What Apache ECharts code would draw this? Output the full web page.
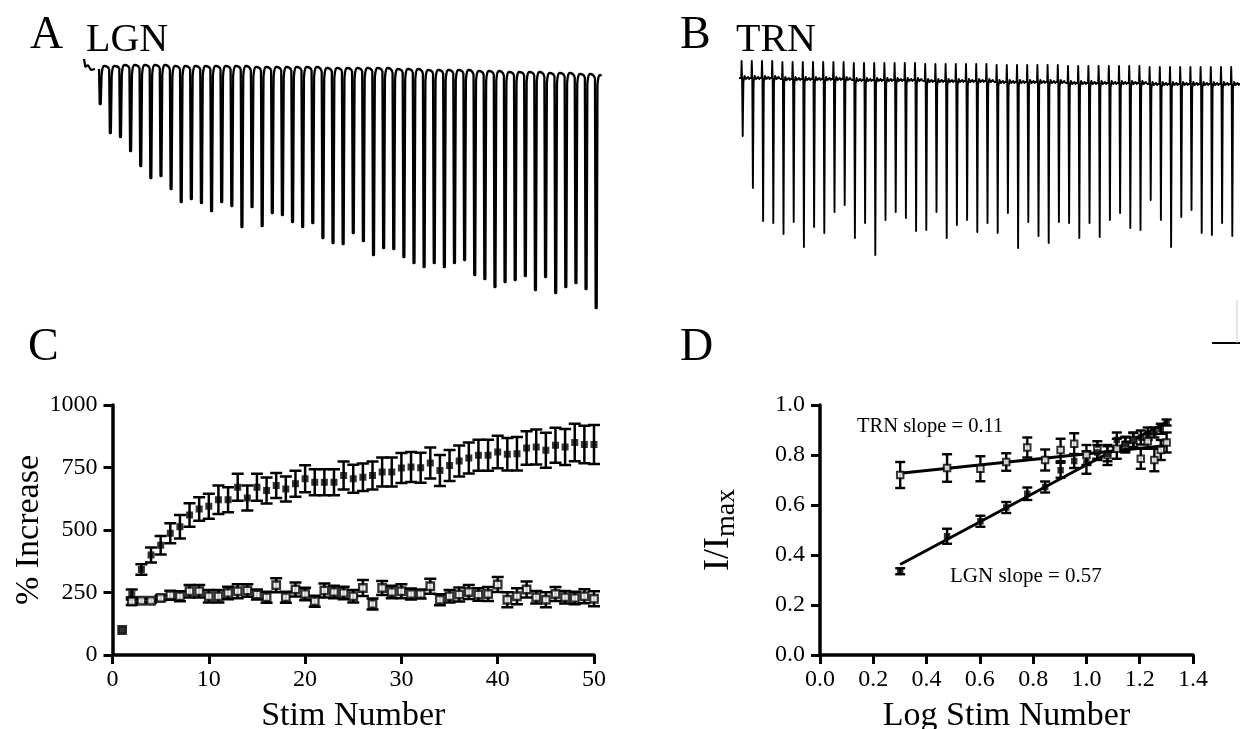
<!DOCTYPE html>
<html><head><meta charset="utf-8">
<script src="https://cdn.jsdelivr.net/npm/echarts@6/dist/echarts.min.js"></script>
<style>html,body{margin:0;padding:0;background:#fff}#c{width:1240px;height:729px}</style>
</head><body><div id="c"></div>
<script>
// ---------- data ----------
const stimNumbers = [1,2,3,4,5,6,7,8,9,10,11,12,13,14,15,16,17,18,19,20,21,22,23,24,25,26,27,28,29,30,31,32,33,34,35,36,37,38,39,40,41,42,43,44,45,46,47,48,49,50];

// Panel A: LGN trace, EPSC peak and inter-stim top level (trace units)
const lgnTracePeak = [-44,-73,-77,-91,-106,-118,-116,-129,-142,-139,-143,-151,-142,-146,-167,-147,-166,-153,-155,-162,-167,-163,-178,-183,-184,-173,-181,-195,-188,-189,-197,-203,-207,-203,-207,-203,-200,-215,-219,-227,-222,-220,-216,-230,-217,-233,-227,-223,-229,-248];
const lgnTraceTop = [-6,-6,-5,-5,-5,-5,-5,-6,-6,-6,-6,-6,-6,-6,-6,-7,-7,-7,-7,-7,-7,-7,-8,-8,-8,-8,-8,-8,-8,-9,-9,-9,-10,-10,-10,-10,-10,-11,-11,-11,-12,-12,-12,-12,-13,-13,-13,-14,-14,-15];
const lgnPreTrace = [[-0.5,2],[-0.35,-7],[-0.1,-5],[0.2,-10],[0.6,-9]];

// Panel B: TRN trace
const trnTracePeak = [-76,-128,-161,-163,-174,-162,-187,-167,-173,-152,-145,-178,-163,-195,-160,-152,-158,-171,-170,-152,-178,-165,-160,-172,-163,-173,-153,-188,-162,-176,-183,-162,-163,-178,-163,-177,-160,-153,-168,-170,-140,-160,-187,-157,-150,-173,-175,-163,-176,-170];
const trnTraceBase = [-18,-18,-18,-18,-19,-19,-19,-19,-19,-19,-19,-20,-20,-20,-20,-20,-20,-20,-21,-21,-21,-21,-21,-21,-21,-22,-22,-22,-22,-22,-22,-22,-23,-23,-23,-23,-23,-23,-23,-23,-24,-24,-24,-24,-24,-24,-24,-24,-24,-24];

// Panel C: % increase vs stim number
const lgnPct = [100,242,342,400,439,487,513,560,584,595,621,621,671,628,671,658,678,664,685,705,691,691,691,718,705,711,718,732,732,748,752,749,768,738,758,776,788,799,799,812,803,805,828,832,819,839,832,850,842,842];
const lgnPctErr = [0,20,21,30,37,40,47,47,47,50,57,50,54,50,54,52,50,50,52,54,52,52,52,56,56,55,56,58,58,60,60,60,62,62,62,62,62,62,62,65,65,67,67,70,70,70,72,75,75,78];
const trnPct = [100,215,217,217,228,239,235,255,255,235,235,248,255,258,242,231,279,231,262,244,215,258,252,248,235,268,204,268,252,255,244,244,275,221,235,242,252,242,244,282,221,235,262,231,221,244,231,228,235,225];
const trnPctErr = [0,15,8,8,10,18,20,25,25,25,25,25,28,25,20,22,28,22,28,25,22,28,25,25,25,32,22,28,25,28,22,18,30,22,25,28,28,25,28,30,30,32,32,25,30,28,25,25,28,30];
const pctTicks = [0,250,500,750,1000];

// Panel D: normalised current vs log stim number
const logStim = [0.301,0.477,0.602,0.699,0.778,0.845,0.903,0.954,1.000,1.041,1.079,1.114,1.146,1.176,1.204,1.230,1.255,1.279,1.301];
const lgnNorm = [0.335,0.475,0.535,0.590,0.645,0.672,0.739,0.776,0.770,0.810,0.805,0.860,0.845,0.860,0.870,0.885,0.890,0.905,0.930];
const lgnNormErr = [0.012,0.030,0.022,0.022,0.025,0.022,0.030,0.028,0.045,0.030,0.030,0.030,0.028,0.028,0.028,0.025,0.020,0.020,0.012];
const trnNorm = [0.720,0.748,0.745,0.772,0.830,0.780,0.820,0.845,0.800,0.820,0.800,0.825,0.840,0.860,0.785,0.855,0.780,0.820,0.850];
const trnNormErr = [0.052,0.055,0.050,0.035,0.040,0.042,0.045,0.042,0.040,0.035,0.040,0.040,0.030,0.030,0.040,0.030,0.045,0.040,0.040];
const lgnFit = [[0.301,0.362],[1.301,0.932]];
const trnFit = [[0.301,0.727],[1.301,0.838]];

// ---------- rendering ----------
const FONT = '"Liberation Serif", "Times New Roman", serif';
const chart = echarts.init(document.getElementById('c'), null, {renderer:'canvas'});

function lgnGlyph(params, api){
  const s = api.value(0), peak = api.value(1), top = api.value(2), last = api.value(4);
  const nextTop = api.value(3);
  const p0 = api.coord([s, top]);
  const pk = api.coord([s, peak]);
  const p1 = api.coord([s+1, nextTop]);
  const x = p0[0], y = p0[1];
  let d = `M${x},${y+3} L${x+0.7},${pk[1]} L${x+1.7},${pk[1]} L${x+2.5},${y+10} Q${x+3.2},${y-1} ${x+5.5},${y} `;
  if (last) d += `L${x+6.5},${y+1}`;
  else d += `Q${x+8.5},${y} ${p1[0]},${p1[1]+3}`;
  return {type:'path', shape:{pathData:d}, style:{fill:'none', stroke:'#000', lineWidth:2.3, lineJoin:'round'}};
}
function trnGlyph(params, api){
  const s = api.value(0), peak = api.value(1), base = api.value(2), nextBase = api.value(3);
  const p0 = api.coord([s, base]);
  const pk = api.coord([s, peak]);
  const p1 = api.coord([s+1, nextBase]);
  const x = p0[0], y = p0[1];
  const d = `M${x-3},${y} L${x-0.8},${y} L${x-0.4},${y-17} L${x+0.1},${y+3} L${x+0.7},${pk[1]} L${x+1.4},${y+4} L${x+2.5},${y-2} L${x+4},${y+1} L${x+6},${y-1} L${x+7.2},${y+1} L${p1[0]-3},${p1[1]}`;
  return {type:'path', shape:{pathData:d}, style:{fill:'none', stroke:'#000', lineWidth:1.9, lineJoin:'round'}};
}
function errGlyph(cap, lw){
  return function(params, api){
    const x = api.value(0), y = api.value(1), e = api.value(2);
    if (!e) return null;
    const hi = api.coord([x, y+e]), lo = api.coord([x, y-e]);
    const st = {stroke:'#000', lineWidth:lw};
    return {type:'group', children:[
      {type:'line', shape:{x1:hi[0],y1:hi[1],x2:lo[0],y2:lo[1]}, style:st},
      {type:'line', shape:{x1:hi[0]-cap,y1:hi[1],x2:hi[0]+cap,y2:hi[1]}, style:st},
      {type:'line', shape:{x1:lo[0]-cap,y1:lo[1],x2:lo[0]+cap,y2:lo[1]}, style:st}
    ]};
  };
}

const axisCommon = {
  axisLine:{show:true, onZero:false, lineStyle:{color:'#000', width:3.5}},
  axisTick:{show:true, inside:false, length:9, lineStyle:{color:'#000', width:3}},
  splitLine:{show:false},
  axisLabel:{color:'#000', fontFamily:FONT, fontSize:24, margin:15},
  nameTextStyle:{color:'#000', fontFamily:FONT, fontSize:34}
};
const hiddenAxis = {show:false, type:'value'};
const gridBase = {containLabel:false, outerBoundsMode:'none', show:false};

const option = {
  animation:false,
  backgroundColor:'#fff',
  grid:[
    Object.assign({left:78.8, top:60, width:526.3, height:260}, gridBase),
    Object.assign({left:721.6, top:60, width:530.4, height:260}, gridBase),
    Object.assign({left:112.5, top:405, width:481.5, height:250}, gridBase),
    Object.assign({left:820, top:405, width:373, height:250}, gridBase)
  ],
  xAxis:[
    Object.assign({gridIndex:0, min:-1, max:51}, hiddenAxis),
    Object.assign({gridIndex:1, min:-1, max:51}, hiddenAxis),
    Object.assign({gridIndex:2, type:'value', min:0, max:50, interval:10, name:'Stim Number', nameLocation:'middle', nameGap:44}, axisCommon,
      {axisLabel:Object.assign({}, axisCommon.axisLabel, {margin:13})}),
    Object.assign({gridIndex:3, type:'value', min:0, max:1.4, interval:0.2, name:'Log Stim Number', nameLocation:'middle', nameGap:44}, axisCommon,
      {axisLabel:Object.assign({}, axisCommon.axisLabel, {margin:13, formatter:v=>v.toFixed(1)})})
  ],
  yAxis:[
    Object.assign({gridIndex:0, min:-260, max:0}, hiddenAxis),
    Object.assign({gridIndex:1, min:-260, max:0}, hiddenAxis),
    Object.assign({gridIndex:2, type:'value', min:pctTicks[0], max:pctTicks[pctTicks.length-1], interval:250, name:'% Increase', nameLocation:'middle', nameGap:65, nameRotate:90}, axisCommon,
      {axisLabel:Object.assign({}, axisCommon.axisLabel, {formatter:v=>String(v)})}),
    Object.assign({gridIndex:3, type:'value', min:0, max:1, interval:0.2, name:'I/I{sub|max}', nameLocation:'middle', nameGap:79, nameRotate:90}, axisCommon,
      {axisLabel:Object.assign({}, axisCommon.axisLabel, {formatter:v=>v.toFixed(1)}),
       nameTextStyle:{color:'#000', fontFamily:FONT, fontSize:36, rich:{sub:{fontFamily:FONT, fontSize:28, color:'#000', padding:[16,0,0,0]}}}})
  ],
  series:[
    {type:'line', xAxisIndex:0, yAxisIndex:0, data:lgnPreTrace, symbol:'none', lineStyle:{color:'#000', width:2.2}, silent:true},
    {type:'custom', xAxisIndex:0, yAxisIndex:0, clip:false, silent:true, renderItem:lgnGlyph,
      data:stimNumbers.map((s,i)=>[s, lgnTracePeak[i], lgnTraceTop[i], i<stimNumbers.length-1 ? lgnTraceTop[i+1] : lgnTraceTop[i], i===stimNumbers.length-1 ? 1 : 0])},
    {type:'custom', xAxisIndex:1, yAxisIndex:1, clip:false, silent:true, renderItem:trnGlyph,
      data:stimNumbers.map((s,i)=>[s, trnTracePeak[i], trnTraceBase[i], i<stimNumbers.length-1 ? trnTraceBase[i+1] : trnTraceBase[i]])},

    {type:'custom', xAxisIndex:2, yAxisIndex:2, clip:false, silent:true, renderItem:errGlyph(6, 2.5), z:2,
      data:stimNumbers.map((s,i)=>[s, trnPct[i], trnPctErr[i]])},
    {type:'custom', xAxisIndex:2, yAxisIndex:2, clip:false, silent:true, renderItem:errGlyph(6, 2.5), z:2,
      data:stimNumbers.map((s,i)=>[s, lgnPct[i], lgnPctErr[i]])},
    {type:'scatter', xAxisIndex:2, yAxisIndex:2, symbol:'rect', symbolSize:7.5, z:3,
      itemStyle:{color:'#fff', borderColor:'#000', borderWidth:2.3}, data:stimNumbers.map((s,i)=>[s, trnPct[i]])},
    {type:'scatter', xAxisIndex:2, yAxisIndex:2, symbol:'rect', symbolSize:7, z:4,
      itemStyle:{color:'#000'}, data:stimNumbers.map((s,i)=>[s, lgnPct[i]])},

    {type:'line', xAxisIndex:3, yAxisIndex:3, data:trnFit, symbol:'none', lineStyle:{color:'#000', width:3}, z:2},
    {type:'line', xAxisIndex:3, yAxisIndex:3, data:lgnFit, symbol:'none', lineStyle:{color:'#000', width:3}, z:2},
    {type:'custom', xAxisIndex:3, yAxisIndex:3, clip:false, silent:true, renderItem:errGlyph(5, 2.4), z:3,
      data:logStim.map((x,i)=>[x, trnNorm[i], trnNormErr[i]])},
    {type:'custom', xAxisIndex:3, yAxisIndex:3, clip:false, silent:true, renderItem:errGlyph(5, 2.4), z:3,
      data:logStim.map((x,i)=>[x, lgnNorm[i], lgnNormErr[i]])},
    {type:'scatter', xAxisIndex:3, yAxisIndex:3, symbol:'rect', symbolSize:6.5, z:4,
      itemStyle:{color:'#fff', borderColor:'#000', borderWidth:2}, data:logStim.map((x,i)=>[x, trnNorm[i]])},
    {type:'scatter', xAxisIndex:3, yAxisIndex:3, symbol:'rect', symbolSize:6.5, z:5,
      itemStyle:{color:'#000'}, data:logStim.map((x,i)=>[x, lgnNorm[i]])}
  ],
  graphic:[
    {type:'text', x:30, y:36, style:{text:'A', fontFamily:FONT, fontSize:46, fill:'#000', align:'left', verticalAlign:'middle'}},
    {type:'text', x:86, y:40, style:{text:'LGN', fontFamily:FONT, fontSize:40, fill:'#000', align:'left', verticalAlign:'middle'}},
    {type:'text', x:680, y:36, style:{text:'B', fontFamily:FONT, fontSize:46, fill:'#000', align:'left', verticalAlign:'middle'}},
    {type:'text', x:736, y:40, style:{text:'TRN', fontFamily:FONT, fontSize:40, fill:'#000', align:'left', verticalAlign:'middle'}},
    {type:'text', x:28, y:348, style:{text:'C', fontFamily:FONT, fontSize:46, fill:'#000', align:'left', verticalAlign:'middle'}},
    {type:'text', x:680, y:348, style:{text:'D', fontFamily:FONT, fontSize:46, fill:'#000', align:'left', verticalAlign:'middle'}},
    {type:'text', x:857, y:427, style:{text:'TRN slope = 0.11', fontFamily:FONT, fontSize:20.5, fill:'#000', align:'left', verticalAlign:'middle'}},
    {type:'text', x:950, y:576, style:{text:'LGN slope = 0.57', fontFamily:FONT, fontSize:21, fill:'#000', align:'left', verticalAlign:'middle'}},
    {type:'line', shape:{x1:1212, y1:343, x2:1240, y2:343}, style:{stroke:'#000', lineWidth:2}},
    {type:'line', shape:{x1:1237, y1:300, x2:1237, y2:343}, style:{stroke:'#ccc', lineWidth:1}}
  ]
};
chart.setOption(option);
</script>
</body></html>
